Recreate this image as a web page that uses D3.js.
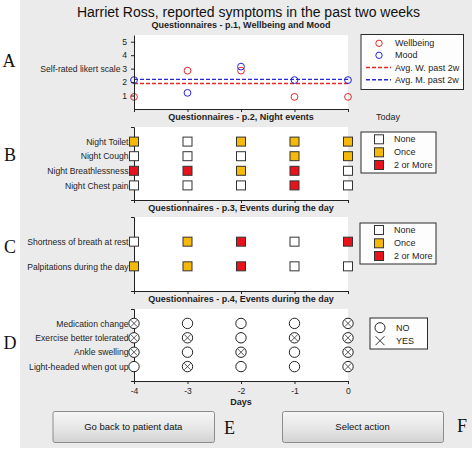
<!DOCTYPE html>
<html><head><meta charset="utf-8">
<script src="https://cdn.jsdelivr.net/npm/d3@7"></script>
<style>
html,body{margin:0;padding:0;background:#fff;}
svg{display:block;font-family:"Liberation Sans",Arial,sans-serif;}
</style></head>
<body>
<script>
// ---- data ----
const days = [-4, -3, -2, -1, 0];
const dayTicks = ["-4", "-3", "-2", "-1", "0"];
const likertTicks = [1, 2, 3, 4, 5];
const wellbeing = [0.9, 2.85, 2.85, 0.9, 0.9];
const mood = [2.15, 1.2, 3.15, 2.15, 2.15];
const avgWellbeing = 1.9;
const avgMood = 2.2;
const legendA = ["Wellbeing", "Mood", "Avg. W. past 2w", "Avg. M. past 2w"];

const nightEvents = ["Night Toilet", "Night Cough", "Night Breathlessness", "Night Chest pain"];
const nightCounts = [[1,0,1,1,1],[0,0,0,1,1],[2,2,1,2,0],[0,0,0,2,0]];
const dayEvents = ["Shortness of breath at rest", "Palpitations during the day"];
const dayCounts = [[0,1,2,0,2],[1,1,2,0,0]];
const changeEvents = ["Medication change", "Exercise better tolerated", "Ankle swelling", "Light-headed when got up"];
const changeAnswers = [[1,0,0,0,1],[1,1,0,1,1],[1,0,1,0,1],[0,1,0,0,1]];
const countLabels = ["None", "Once", "2 or More"];
const answerLabels = ["NO", "YES"];

const title = "Harriet Ross, reported symptoms in the past two weeks";
const subtitles = ["Questionnaires - p.1, Wellbeing and Mood", "Questionnaires - p.2, Night events",
  "Questionnaires - p.3, Events during the day", "Questionnaires - p.4, Events during the day"];
const panelLetters = ["A", "B", "C", "D", "E", "F"];
const buttons = ["Go back to patient data", "Select action"];

// ---- styles ----
const countColors = ["#ffffff", "#f6b908", "#e8121c"];
const RED = "#e52828", BLUE = "#2626d6", INK = "#1e1e1e";
const FS = 8.6;

const W = 472, H = 449;
const svg = d3.select("body").append("svg").attr("width", W).attr("height", H);
const defs = svg.append("defs");
const grad = defs.append("linearGradient").attr("id", "btn").attr("x1", 0).attr("y1", 0).attr("x2", 0).attr("y2", 1);
grad.append("stop").attr("offset", "0%").attr("stop-color", "#f6f6f6");
grad.append("stop").attr("offset", "55%").attr("stop-color", "#e6e6e6");
grad.append("stop").attr("offset", "100%").attr("stop-color", "#d2d2d2");

svg.append("rect").attr("width", W).attr("height", H).attr("fill", "#fff");
svg.append("rect").attr("x", 20).attr("y", 0).attr("width", W - 20).attr("height", 448).attr("fill", "#ebebeb");

const x = d3.scaleLinear().domain([-4, 0]).range([134, 348]);

// title
svg.append("text").attr("x", 248.5).attr("y", 16.5).attr("text-anchor", "middle")
  .attr("font-size", 14).attr("fill", "#111").text(title);

function subtitle(i, y) {
  svg.append("text").attr("x", 241).attr("y", y).attr("dy", "0.35em").attr("text-anchor", "middle")
    .attr("font-size", 9).attr("font-weight", "bold").attr("fill", INK).text(subtitles[i]);
}

function plotBg(y) {
  const [y0, y1] = y.range().slice().sort((a, b) => a - b);
  svg.append("rect").attr("x", x.range()[0]).attr("y", y0).attr("width", x.range()[1] - x.range()[0])
    .attr("height", y1 - y0).attr("fill", "#fff");
}

function styleAxis(g) {
  g.selectAll("path,line").attr("stroke", "#222").attr("stroke-width", 1);
  g.selectAll("text").attr("fill", INK).attr("font-size", FS).attr("font-family", "Liberation Sans, Arial, sans-serif");
}

function xAxis(y, labels) {
  const g = svg.append("g").attr("transform", `translate(0,${y.range()[0]})`)
    .call(d3.axisBottom(x).tickValues(days).tickSize(3).tickSizeOuter(0).tickPadding(4)
      .tickFormat((d, i) => labels ? dayTicks[i] : ""));
  styleAxis(g);
}

function catAxis(y, cats) {
  const g = svg.append("g").attr("transform", `translate(${x.range()[0]},0)`)
    .call(d3.axisLeft(y).tickValues(cats.map((c, i) => i + 1)).tickSize(0).tickSizeOuter(3).tickPadding(5.5)
      .tickFormat((d) => cats[d - 1]));
  styleAxis(g);
}

function legendBox(x0, y0, x1, y1) {
  svg.append("rect").attr("x", x0 + 0.5).attr("y", y0 + 0.5).attr("width", x1 - x0).attr("height", y1 - y0)
    .attr("fill", "#fdfdfd").attr("stroke", "#2a2a2a").attr("stroke-width", 1);
}

function legendText(xx, yy, t) {
  svg.append("text").attr("x", xx).attr("y", yy).attr("dy", "0.35em").attr("font-size", 9)
    .attr("fill", INK).text(t);
}

function squares(y, counts) {
  counts.forEach((row, r) => {
    svg.append("g").selectAll("rect").data(row).join("rect")
      .attr("x", (d, i) => x(days[i]) - 4.5).attr("y", y(r + 1) - 4.5)
      .attr("width", 9).attr("height", 9)
      .attr("fill", d => countColors[d]).attr("stroke", "#333").attr("stroke-width", 1);
  });
}

function countLegend(x0, y0, x1, y1, ys) {
  legendBox(x0, y0, x1, y1);
  countLabels.forEach((t, i) => {
    svg.append("rect").attr("x", 379 - 4.5).attr("y", ys[i] - 4.5).attr("width", 9).attr("height", 9)
      .attr("fill", countColors[i]).attr("stroke", "#333");
    legendText(394, ys[i], t);
  });
}

// ---------- Panel A ----------
subtitle(0, 25);
const yA = d3.scaleLinear().domain([0, 5.5]).range([109, 35]);
plotBg(yA);
svg.append("line").attr("x1", x(-4)).attr("x2", x(0)).attr("y1", yA(avgWellbeing)).attr("y2", yA(avgWellbeing))
  .attr("stroke", RED).attr("stroke-width", 1.4).attr("stroke-dasharray", "4,2");
svg.append("line").attr("x1", x(-4)).attr("x2", x(0)).attr("y1", yA(avgMood)).attr("y2", yA(avgMood))
  .attr("stroke", BLUE).attr("stroke-width", 1.4).attr("stroke-dasharray", "4,2");
svg.append("g").selectAll("circle").data(wellbeing).join("circle")
  .attr("cx", (d, i) => x(days[i])).attr("cy", d => yA(d)).attr("r", 3.4)
  .attr("fill", "none").attr("stroke", RED).attr("stroke-width", 1);
svg.append("g").selectAll("circle").data(mood).join("circle")
  .attr("cx", (d, i) => x(days[i])).attr("cy", d => yA(d)).attr("r", 3.4)
  .attr("fill", "none").attr("stroke", BLUE).attr("stroke-width", 1);
{
  const g = svg.append("g").attr("transform", `translate(${x.range()[0]},0)`)
    .call(d3.axisLeft(yA).tickValues(likertTicks).tickSize(3).tickSizeOuter(0).tickPadding(4)
      .tickFormat(d3.format("d")));
  styleAxis(g);
}
xAxis(yA, false);
svg.append("text").attr("x", 120.5).attr("y", yA(3)).attr("dy", "0.35em").attr("text-anchor", "end")
  .attr("font-size", FS).attr("fill", INK).text("Self-rated likert scale");
// legend A
legendBox(360.5, 34, 463, 89);
const lyA = [43.3, 55.3, 67.5, 79.7];
svg.append("circle").attr("cx", 379).attr("cy", lyA[0]).attr("r", 3.2).attr("fill", "none").attr("stroke", RED);
svg.append("circle").attr("cx", 379).attr("cy", lyA[1]).attr("r", 3.2).attr("fill", "none").attr("stroke", BLUE);
svg.append("line").attr("x1", 366).attr("x2", 391).attr("y1", lyA[2]).attr("y2", lyA[2])
  .attr("stroke", RED).attr("stroke-width", 1.4).attr("stroke-dasharray", "4,2");
svg.append("line").attr("x1", 366).attr("x2", 391).attr("y1", lyA[3]).attr("y2", lyA[3])
  .attr("stroke", BLUE).attr("stroke-width", 1.4).attr("stroke-dasharray", "4,2");
legendA.forEach((t, i) => legendText(395, lyA[i], t));

// ---------- Panel B ----------
subtitle(1, 116.8);
svg.append("text").attr("x", 388).attr("y", 117.3).attr("dy", "0.35em").attr("text-anchor", "middle")
  .attr("font-size", 9).attr("fill", INK).text("Today");
const yB = d3.scaleLinear().domain([5, 0]).range([200, 127]);
plotBg(yB);
catAxis(yB, nightEvents);
xAxis(yB, false);
squares(yB, nightCounts);
countLegend(360.5, 131.5, 435.5, 172.5, [139.3, 152.3, 165]);

// ---------- Panel C ----------
subtitle(2, 208.3);
const yC = d3.scaleLinear().domain([3, 0]).range([291, 217]);
plotBg(yC);
catAxis(yC, dayEvents);
xAxis(yC, false);
squares(yC, dayCounts);
countLegend(359.5, 222.5, 435.5, 263.5, [230, 243.3, 256]);

// ---------- Panel D ----------
subtitle(3, 299.3);
const yD = d3.scaleLinear().domain([5, 0]).range([381, 309]);
plotBg(yD);
catAxis(yD, changeEvents);
xAxis(yD, true);
changeAnswers.forEach((row, r) => {
  const g = svg.append("g").selectAll("g").data(row).join("g")
    .attr("transform", (d, i) => `translate(${x(days[i])},${yD(r + 1)})`);
  g.append("circle").attr("r", 5.2).attr("fill", "#fff").attr("stroke", "#222").attr("stroke-width", 1);
  g.filter(d => d === 1).append("path").attr("d", "M-3.2,-3.2L3.2,3.2M-3.2,3.2L3.2,-3.2")
    .attr("stroke", "#444").attr("stroke-width", 0.9);
});
svg.append("text").attr("x", 241).attr("y", 402).attr("dy", "0.35em").attr("text-anchor", "middle")
  .attr("font-size", 9).attr("font-weight", "bold").attr("fill", INK).text("Days");
legendBox(369.5, 317.5, 427, 348.5);
svg.append("circle").attr("cx", 380).attr("cy", 327.7).attr("r", 5).attr("fill", "none").attr("stroke", "#222");
svg.append("path").attr("d", "M375.5,336.2L384.5,345.2M375.5,345.2L384.5,336.2").attr("stroke", "#333").attr("stroke-width", 1);
answerLabels.forEach((t, i) => legendText(396, [327.7, 340.7][i], t));

// ---------- Buttons ----------
[[52.5, 214], [282, 443]].forEach((b, i) => {
  svg.append("rect").attr("x", b[0] + 0.5).attr("y", 411.5).attr("width", b[1] - b[0]).attr("height", 31)
    .attr("rx", 2).attr("fill", "url(#btn)").attr("stroke", "#8c8c8c");
  svg.append("text").attr("x", (b[0] + b[1]) / 2).attr("y", 427).attr("dy", "0.35em").attr("text-anchor", "middle")
    .attr("font-size", 9.5).attr("fill", "#111").text(buttons[i]);
});

// ---------- Panel letters ----------
const letterPos = [[9, 61], [10, 155], [10, 247], [10, 343], [229.5, 428], [462, 426]];
panelLetters.forEach((t, i) => {
  svg.append("text").attr("x", letterPos[i][0]).attr("y", letterPos[i][1]).attr("dy", "0.35em")
    .attr("text-anchor", "middle").attr("font-family", "Liberation Serif, Times New Roman, serif")
    .attr("font-size", 18).attr("fill", "#111").text(t);
});
</script>
</body></html>
